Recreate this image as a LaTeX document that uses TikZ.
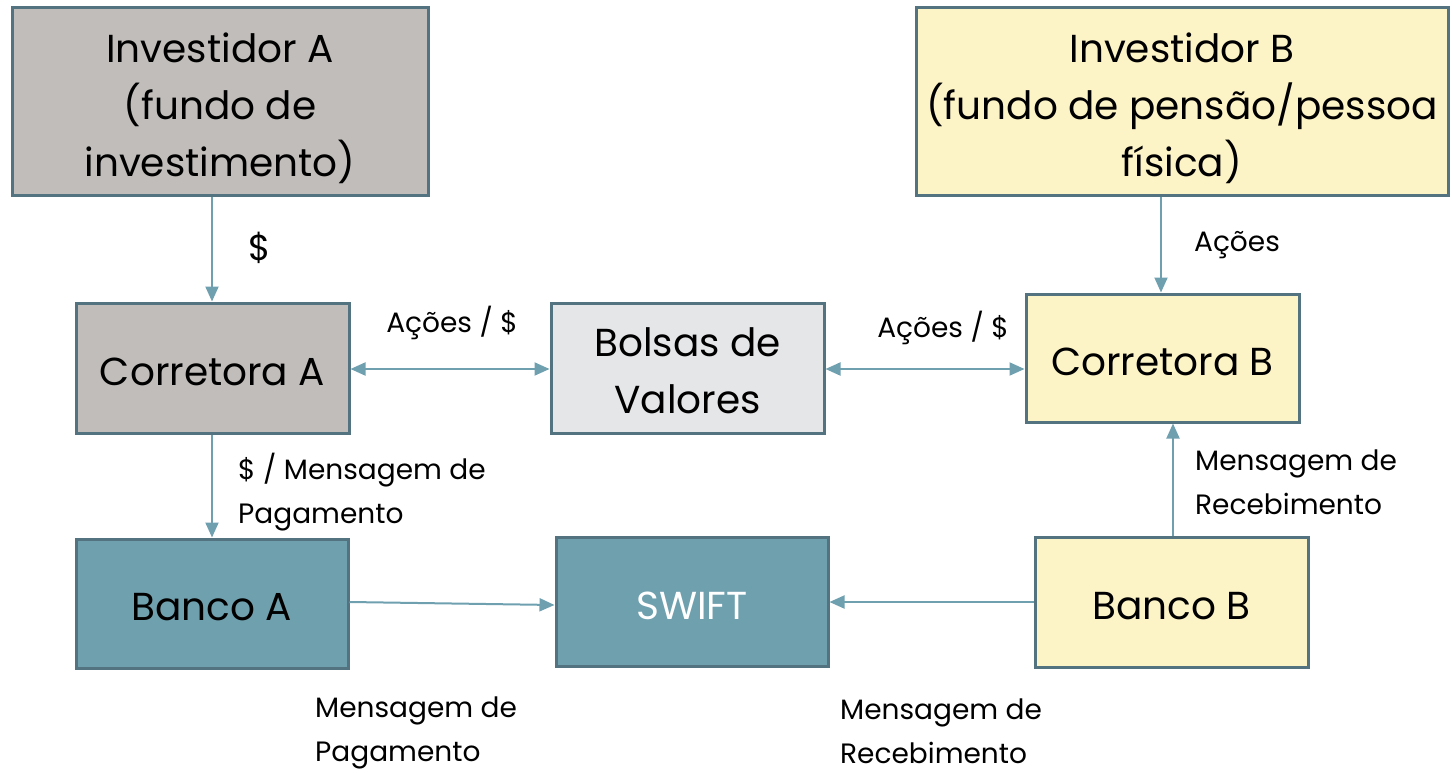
\documentclass[tikz,border=0pt]{standalone}
\usepackage{fontspec}
\setmainfont{Poppins}
\usetikzlibrary{arrows.meta}
\definecolor{bordc}{RGB}{84,115,128}
\definecolor{arrc}{RGB}{111,160,176}
\definecolor{grayf}{RGB}{192,189,186}
\definecolor{yelf}{RGB}{252,243,198}
\definecolor{lgf}{RGB}{229,230,232}
\definecolor{tealf}{RGB}{111,160,174}
\begin{document}
\begin{tikzpicture}[x=1pt,y=-1pt,
  box/.style={draw=bordc,line width=3pt,inner sep=0pt},
  txt/.style={align=center,inner sep=0pt,font=\fontsize{39}{57}\selectfont},
  conn/.style={draw=arrc,line width=2pt,-{Triangle[length=15pt,width=13pt]}},
  dconn/.style={draw=arrc,line width=2pt,{Triangle[length=15pt,width=13pt]}-{Triangle[length=15pt,width=13pt]}},
  lbl/.style={font=\fontsize{28}{44}\selectfont,align=left,inner sep=0pt}]
\useasboundingbox (0,0) rectangle (1452,773);
\node[box,fill=grayf,minimum width=416pt,minimum height=188pt,label={[txt,yshift=-6pt]center:Investidor A\\(fundo de\\investimento)}] (invA) at (220,102) {};
\node[box,fill=yelf,minimum width=532pt,minimum height=188pt,label={[txt,yshift=-6pt]center:Investidor B\\(fundo de pensão/pessoa\\física)}] (invB) at (1182,102) {};
\node[box,fill=grayf,minimum width=273pt,minimum height=130pt,label={[txt,yshift=-4pt]center:Corretora A}] (corA) at (212.5,368) {};
\node[box,fill=lgf,minimum width=273pt,minimum height=130pt,label={[txt,yshift=-3pt]center:Bolsas de\\Valores}] (bolsa) at (687.5,368) {};
\node[box,fill=yelf,minimum width=273pt,minimum height=128pt,label={[txt,yshift=-4pt]center:Corretora B}] (corB) at (1162.5,358) {};
\node[box,fill=tealf,minimum width=272pt,minimum height=129pt,label={[txt,yshift=-4pt]center:Banco A}] (banA) at (212,603.5) {};
\node[box,fill=tealf,minimum width=272pt,minimum height=129pt,label={[txt,text=white,yshift=-4pt]center:SWIFT}] (swift) at (692,601.5) {};
\node[box,fill=yelf,minimum width=273pt,minimum height=130pt,label={[txt,yshift=-4pt]center:Banco B}] (banB) at (1171.5,602) {};
\draw[conn] (invA.south -| 212,0) -- (corA.north -| 212,0);
\draw[conn] (invB.south -| 1161,0) -- (corB.north -| 1161,0);
\draw[dconn] (corA.east |- 0,369) -- (bolsa.west |- 0,369);
\draw[dconn] (bolsa.east |- 0,369) -- (corB.west |- 0,369);
\draw[conn] (corA.south -| 212,0) -- (banA.north -| 212,0);
\draw[conn] (banB.north -| 1173,0) -- (corB.south -| 1173,0);
\draw[conn] (banA.east |- 0,602) -- (swift.west |- 0,605);
\draw[conn] (banB.west |- 0,602) -- (swift.east |- 0,602);
\node[font=\fontsize{36}{40}\selectfont,inner sep=0pt] (l1) at (260,248) {\$};
\node[lbl] (l2) at (1237,245) {Ações};
\node[lbl] (l3) at (452,323) {Ações / \$};
\node[lbl] (l4) at (943,328) {Ações / \$};
\node[lbl,anchor=west] (l5) at (238,492) {\$ / Mensagem de\\Pagamento};
\node[lbl,anchor=west] (l6) at (1195,482) {Mensagem de\\Recebimento};
\node[lbl,anchor=west] (l7) at (315,733) {Mensagem de\\Pagamento};
\node[lbl,anchor=west] (l8) at (840,731) {Mensagem de\\Recebimento};
\end{tikzpicture}
\end{document}
